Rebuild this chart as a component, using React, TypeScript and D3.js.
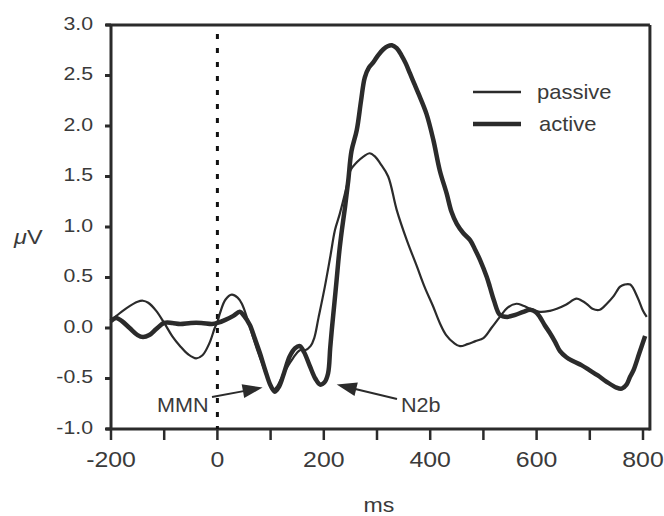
import React from "react";
import * as d3 from "d3";

const xTicks = [-200, -100, 0, 100, 200, 300, 400, 500, 600, 700, 800];
const xTickLabels = ["-200", "0", "200", "400", "600", "800"];
const xLabelValues = [-200, 0, 200, 400, 600, 800];
const yTicks = [-1.0, -0.5, 0.0, 0.5, 1.0, 1.5, 2.0, 2.5, 3.0];
const yTickLabels = ["-1.0", "-0.5", "0.0", "0.5", "1.0", "1.5", "2.0", "2.5", "3.0"];

const passiveT = [-200, -190, -170, -150, -140, -130, -115, -100, -85, -70, -55, -40, -28, -15, -5, 0, 5, 15, 27, 38, 46, 57, 67, 77, 86, 96, 105, 112, 120, 130, 142, 155, 165, 175, 182, 190, 202, 212, 221, 230, 243, 250, 262, 275, 286, 296, 306, 321, 337, 356, 375, 390, 405, 418, 430, 445, 456, 470, 485, 500, 515, 531, 545, 562, 575, 588, 606, 625, 638, 655, 675, 685, 694, 705, 719, 732, 744, 757, 765, 776, 790, 800, 807];
const passiveV = [0.08, 0.12, 0.2, 0.26, 0.27, 0.25, 0.17, 0.05, -0.08, -0.18, -0.26, -0.3, -0.27, -0.15, 0.0, 0.06, 0.15, 0.28, 0.33, 0.3, 0.24, 0.08, -0.09, -0.25, -0.38, -0.52, -0.61, -0.58, -0.5, -0.4, -0.3, -0.22, -0.22, -0.18, -0.1, 0.1, 0.41, 0.7, 0.97, 1.13, 1.4, 1.56, 1.64, 1.7, 1.73, 1.7, 1.63, 1.5, 1.17, 0.87, 0.61, 0.4, 0.22, 0.05, -0.07, -0.15, -0.18, -0.16, -0.13, -0.1, 0.0, 0.11, 0.2, 0.24, 0.22, 0.19, 0.16, 0.17, 0.19, 0.23, 0.29, 0.27, 0.24, 0.19, 0.18, 0.24, 0.31, 0.41, 0.43, 0.43, 0.3, 0.17, 0.11];

const activeT = [-200, -190, -180, -165, -150, -140, -128, -115, -100, -85, -70, -50, -30, -10, 0, 15, 30, 42, 50, 61, 70, 80, 90, 100, 108, 116, 125, 136, 146, 155, 163, 174, 184, 193, 201, 208, 212, 215, 220, 224, 229, 234, 240, 246, 252, 262, 270, 277, 285, 293, 302, 312, 320, 328, 337, 346, 354, 362, 370, 378, 393, 406, 418, 431, 440, 450, 462, 475, 485, 494, 506, 512, 520, 531, 545, 560, 575, 588, 598, 606, 615, 625, 635, 644, 656, 669, 685, 700, 715, 731, 750, 760, 769, 776, 782, 793, 804];
const activeV = [0.07, 0.1, 0.07, 0.0, -0.07, -0.09, -0.07, -0.01, 0.05, 0.05, 0.04, 0.05, 0.05, 0.04, 0.05, 0.08, 0.12, 0.16, 0.12, 0.03, -0.1, -0.25, -0.42, -0.57, -0.63, -0.58, -0.45, -0.28, -0.2, -0.18, -0.24, -0.38, -0.5, -0.56, -0.54, -0.45, -0.2, -0.02, 0.25, 0.47, 0.75, 0.97, 1.2, 1.46, 1.75, 1.96, 2.25, 2.48, 2.58, 2.63, 2.7, 2.76, 2.79, 2.8, 2.77, 2.7, 2.62, 2.52, 2.42, 2.32, 2.12, 1.86, 1.56, 1.33, 1.15, 1.03, 0.94, 0.87, 0.77, 0.67, 0.51, 0.41, 0.27, 0.13, 0.11, 0.13, 0.16, 0.18, 0.16, 0.11, 0.03, -0.05, -0.14, -0.23, -0.29, -0.33, -0.37, -0.42, -0.47, -0.53, -0.59, -0.6, -0.56, -0.48, -0.42, -0.25, -0.08];

const seriesNames = ["passive", "active"];

const W = 664;
const H = 516;
const INK = "#2b2b2b";
const TXT = "#3a3a3a";
const FONT = "'Liberation Sans', Arial, Helvetica, sans-serif";

type TProps = {
  x: number;
  y: number;
  size: number;
  sx?: number;
  anchor?: "start" | "middle" | "end";
  children: React.ReactNode;
};

function T({ x, y, size, sx = 1.12, anchor = "start", children }: TProps) {
  return (
    <text
      transform={`translate(${x},${y}) scale(${sx},1)`}
      fontSize={size}
      textAnchor={anchor}
      fill={TXT}
    >
      {children}
    </text>
  );
}

export default function App() {
  const x = d3.scaleLinear().domain([-200, 800]).range([111, 643]);
  const y = d3.scaleLinear().domain([-1, 3]).range([429, 25]);
  const xRight = x(813);

  const line = d3
    .line<[number, number]>()
    .x((d) => x(d[0]))
    .y((d) => y(d[1]))
    .curve(d3.curveCatmullRom.alpha(0.5));

  const passive: [number, number][] = passiveT.map((t, i) => [t, passiveV[i]]);
  const active: [number, number][] = activeT.map((t, i) => [t, activeV[i]]);

  const mmnTip: [number, number] = [x(100), y(-0.57)];
  const n2bTip: [number, number] = [x(213), y(-0.52)];

  const arrow = (from: [number, number], to: [number, number], len: number, half: number) => {
    const dx = to[0] - from[0];
    const dy = to[1] - from[1];
    const L = Math.hypot(dx, dy);
    const ux = dx / L;
    const uy = dy / L;
    const bx = to[0] - ux * len;
    const by = to[1] - uy * len;
    const pts = [
      [to[0], to[1]],
      [bx - uy * half, by + ux * half],
      [bx + uy * half, by - ux * half],
    ];
    return (
      <g>
        <line x1={from[0]} y1={from[1]} x2={bx + ux * 2} y2={by + uy * 2} stroke={INK} strokeWidth={2} />
        <polygon points={pts.map((p) => p.join(",")).join(" ")} fill={INK} />
      </g>
    );
  };

  return (
    <svg
      width={W}
      height={H}
      style={{ position: "absolute", left: 0, top: 0, background: "#fff" }}
      fontFamily={FONT}
    >
      <rect x={0} y={0} width={W} height={H} fill="#fff" />
      {/* frame */}
      <line x1={106} y1={y(3)} x2={xRight} y2={y(3)} stroke={INK} strokeWidth={3} />
      <line x1={106} y1={y(-1)} x2={xRight} y2={y(-1)} stroke={INK} strokeWidth={3} />
      <line x1={x(-200)} y1={y(3)} x2={x(-200)} y2={y(-1)} stroke={INK} strokeWidth={3} />
      <line x1={xRight} y1={y(3)} x2={xRight} y2={y(-1) + 1.5} stroke={INK} strokeWidth={3} />

      {/* y ticks */}
      {yTicks.map((v, i) => (
        <g key={"y" + i}>
          <line x1={105} x2={x(-200)} y1={y(v)} y2={y(v)} stroke={INK} strokeWidth={3} />
          <T x={93} y={y(v) + 4.5} size={18.5} sx={1.15} anchor="end">
            {yTickLabels[i]}
          </T>
        </g>
      ))}

      {/* x ticks */}
      {xTicks.map((t, i) => (
        <line key={"xt" + i} x1={x(t)} x2={x(t)} y1={y(-1)} y2={y(-1) + 11} stroke={INK} strokeWidth={2.5} />
      ))}
      {xLabelValues.map((t, i) => (
        <T key={"xl" + i} x={x(t)} y={467} size={22} sx={1.13} anchor="middle">
          {xTickLabels[i]}
        </T>
      ))}

      {/* axis titles */}
      <T x={379} y={512} size={21} sx={1.1} anchor="middle">ms</T>
      <T x={14} y={244} size={21} sx={1.12}>
        <tspan fontStyle="italic">μ</tspan>V
      </T>

      {/* stimulus onset */}
      <line x1={x(0)} x2={x(0)} y1={y(3) + 9} y2={y(-1)} stroke="#111" strokeWidth={3} strokeDasharray="5,9" />

      {/* curves */}
      <path d={line(passive) || ""} fill="none" stroke={INK} strokeWidth={2.2} strokeLinejoin="round" />
      <path d={line(active) || ""} fill="none" stroke={INK} strokeWidth={4.5} strokeLinejoin="round" />

      {/* legend */}
      <line x1={473} x2={521} y1={92} y2={92} stroke={INK} strokeWidth={2.5} />
      <T x={537} y={99} size={20} sx={1.1}>{seriesNames[0]}</T>
      <line x1={473} x2={521} y1={124} y2={124} stroke={INK} strokeWidth={4.5} />
      <T x={539} y={131} size={20} sx={1.1}>{seriesNames[1]}</T>

      {/* annotations */}
      <T x={157} y={412} size={20} sx={1.08}>MMN</T>
      {arrow([212, 397], [mmnTip[0] - 8, mmnTip[1] + 2], 20, 7)}
      <T x={401} y={412} size={20} sx={1.08}>N2b</T>
      {arrow([397, 399], [n2bTip[0] + 6, n2bTip[1] + 4], 20, 7)}
    </svg>
  );
}
